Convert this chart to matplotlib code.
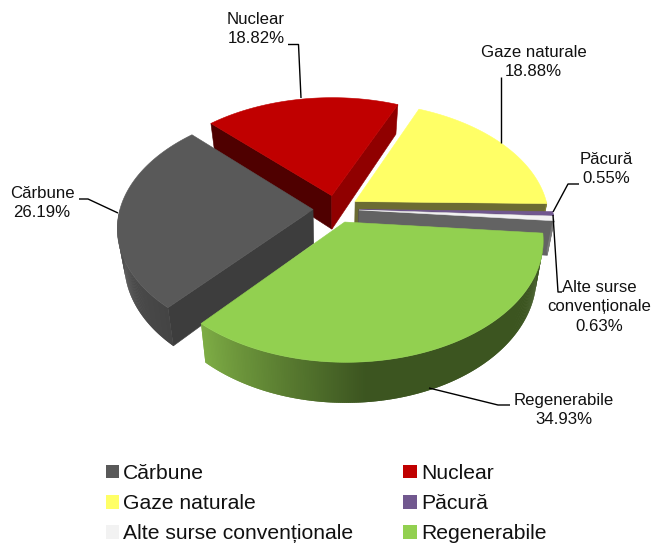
import numpy as np
import matplotlib
matplotlib.use("Agg")
import matplotlib.pyplot as plt
from matplotlib.patches import Polygon, Patch

plt.rcParams['font.family'] = ['Liberation Sans', 'DejaVu Sans']

categories = ["Cărbune", "Nuclear", "Gaze naturale", "Păcură", "Alte surse convenționale", "Regenerabile"]
label_texts = ["Cărbune", "Nuclear", "Gaze naturale", "Păcură", "Alte surse\nconvenționale", "Regenerabile"]
values = [26.19, 18.82, 18.88, 0.55, 0.63, 34.93]
top_colors = ["#595959", "#C00000", "#FFFF66", "#71588F", "#F2F2F2", "#92D050"]
start_face = ["#3D3D3D", "#4F0000", "#8F8F40", "#38284A", "#777777", "#3C5520"]
end_face = ["#3D3D3D", "#900000", "#6B6B33", "#38284A", "#636363", "#3C5520"]
arc_light = ["#444444", "#600000", "#808033", "#38284A", "#7A7A7A", "#7EAD45"]
arc_dark = ["#565656", "#600000", "#808033", "#38284A", "#7A7A7A", "#3C5520"]

# Layout of the projected pie, in pixels
CX, CY, R, KY, PERSP, EXPL, DEPTH, SHRINK = 336.0, 209.0, 193.0, 0.60, 0.145, 23.0, 37.0, 0.032
START = 131.0
W, H = 653, 543


def project(u, v, z=0.0):
    s = 1.0 / (1.0 - PERSP * np.asarray(v) / R)
    x = CX + s * np.asarray(u) * (1 - SHRINK * z)
    y = CY + s * KY * np.asarray(v) + s * DEPTH * z * 0.92
    return np.column_stack([x, y])


fig = plt.figure(figsize=(W / 100, H / 100), dpi=100)
ax = fig.add_axes([0, 0, 1, 1])
ax.set_xlim(0, W)
ax.set_ylim(H, 0)
ax.axis("off")

angles = START + np.concatenate([[0], np.cumsum(values)]) * 3.6
slices = []
for i in range(len(values)):
    a0, a1 = angles[i], angles[i + 1]
    mid = np.radians((a0 + a1) / 2)
    slices.append((np.sin(mid), i, a0, a1, EXPL * np.cos(mid), EXPL * np.sin(mid)))


def add_poly(pts, color, z, lw=0.4):
    ax.add_patch(Polygon(pts, closed=True, facecolor=color, edgecolor=color if lw else "none",
                         lw=lw, zorder=z))


def mix(c1, c2, t):
    a, b = np.array(matplotlib.colors.to_rgb(c1)), np.array(matplotlib.colors.to_rgb(c2))
    return tuple(a + (b - a) * t)


zo = 2
for _, i, a0, a1, ox, oy in sorted(slices, key=lambda t: t[0]):
    th = np.radians(np.linspace(a0, a1, max(3, int(a1 - a0) * 2)))
    u, v = ox + R * np.cos(th), oy + R * np.sin(th)
    # radial cut faces, only where they look towards the viewer
    for ang, col, sign in ((a0, start_face[i], -90), (a1, end_face[i], 90)):
        if np.sin(np.radians(ang + sign)) > 0:
            e = np.radians(ang)
            eu, ev = ox + R * np.cos(e), oy + R * np.sin(e)
            pts = np.vstack([project([ox, eu], [oy, ev]), project([eu, ox], [ev, oy], 1.0)])
            add_poly(pts, col, zo)
    # outer rim with a lengthwise shade; each strip overlaps the next one to avoid seams
    idx = [j for j in range(len(th) - 1) if np.sin((th[j] + th[j + 1]) / 2) > 0]
    rim_right_first = i != 0
    seq = idx if rim_right_first else idx[::-1]
    for n, j in enumerate(seq):
        deg = np.degrees((th[j] + th[j + 1]) / 2) % 360
        t = np.clip((deg - 85) / 46, 0, 1) if deg > 85 else 0.0
        if i == 0:
            t = np.clip((deg - 131) / 49, 0, 1)
            col = mix(arc_light[i], arc_dark[i], t)
        else:
            col = mix(arc_dark[i], arc_light[i], t)
        lo, hi = (j, j + 3) if rim_right_first else (max(j - 1, 0), j + 2)
        if hi - 1 > idx[-1] + 1:
            hi = idx[-1] + 2
        pts = np.vstack([project(u[lo:hi], v[lo:hi]),
                         project(u[lo:hi][::-1], v[lo:hi][::-1], 1.0)])
        add_poly(pts, col, zo + n * 0.001, lw=0)
    # top surface
    add_poly(np.vstack([project([ox], [oy]), project(u, v)]), top_colors[i], zo + 0.5)
    zo += 1

# Data labels and leader lines
label_pos = [(42, 203), (256, 29), (533.5, 62), (606, 169), (599, 307), (564, 410)]
leaders = [
    [(79, 199), (88, 199), (118, 213)],
    [(288, 44.5), (298.5, 44.5), (301, 98)],
    [(501, 77), (501, 143)],
    [(579, 184), (568, 184), (553, 212)],
    [(562, 292), (558, 292), (553, 215)],
    [(510, 405), (498, 405), (429, 388)],
]
for txt, val, pos, line in zip(label_texts, values, label_pos, leaders):
    ax.text(pos[0], pos[1], f"{txt}\n{val:.2f}%", ha="center", va="center",
            multialignment="center", fontsize=12.1, linespacing=1.36, color="#111111", zorder=30)
    xs, ys = zip(*line)
    ax.plot(xs, ys, color="black", lw=1.0, zorder=29, solid_capstyle="butt")

# Legend
order = [0, 2, 4, 1, 3, 5]
handles = [Patch(facecolor=top_colors[k], edgecolor="none", label=categories[k]) for k in order]
ax.legend(handles=handles, ncol=2, loc="upper left", bbox_to_anchor=(106, 464),
          bbox_transform=ax.transData, frameon=False, fontsize=15.2,
          handlelength=0.62, handleheight=0.62, handletextpad=0.2,
          labelspacing=0.53, columnspacing=2.37, borderpad=0, borderaxespad=0,
          labelcolor="#111111")

fig.savefig("out.png", dpi=100)
